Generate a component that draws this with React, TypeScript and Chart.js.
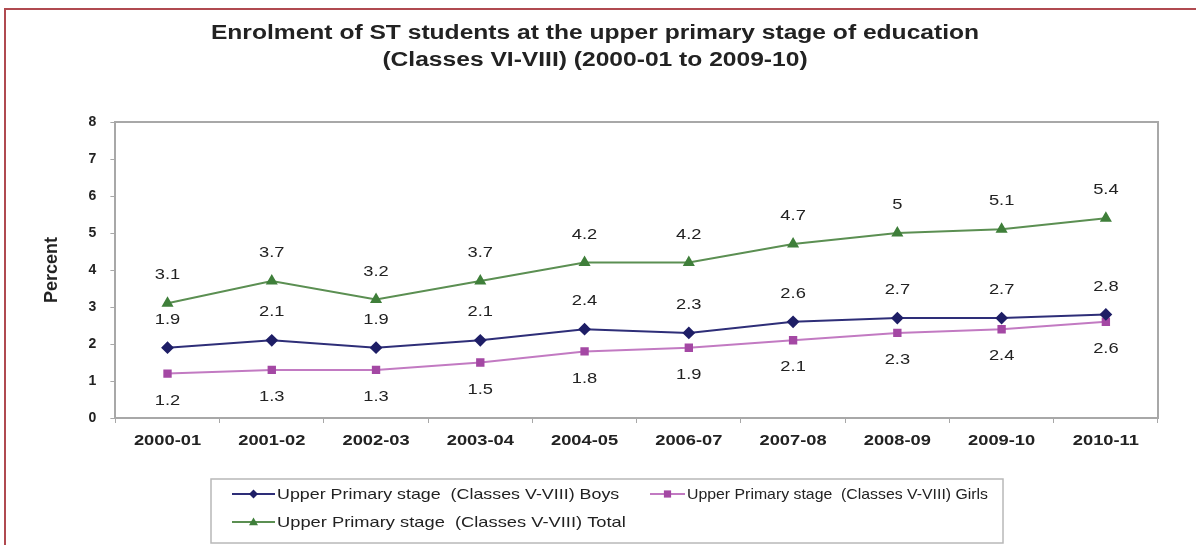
import React, { useEffect, useRef } from "react";
import { Chart, registerables } from "chart.js";

Chart.register(...registerables);

const categories = ["2000-01", "2001-02", "2002-03", "2003-04", "2004-05", "2006-07", "2007-08", "2008-09", "2009-10", "2010-11"];
const boys = [1.9, 2.1, 1.9, 2.1, 2.4, 2.3, 2.6, 2.7, 2.7, 2.8];
const girls = [1.2, 1.3, 1.3, 1.5, 1.8, 1.9, 2.1, 2.3, 2.4, 2.6];
const total = [3.1, 3.7, 3.2, 3.7, 4.2, 4.2, 4.7, 5.0, 5.1, 5.4];
const seriesNames = [
  "Upper Primary stage  (Classes V-VIII) Boys",
  "Upper Primary stage  (Classes V-VIII) Girls",
  "Upper Primary stage  (Classes V-VIII) Total",
];
const titleLines = [
  "Enrolment of ST students at the upper primary stage of education",
  "(Classes VI-VIII) (2000-01 to 2009-10)",
];
const yTicks = [0, 1, 2, 3, 4, 5, 6, 7, 8];

const FONT = "'Liberation Sans', Arial, sans-serif";
const STRETCH = 1.22;
const labelOffsets = [-28, 27, -28];

function stretchText(ctx: CanvasRenderingContext2D, text: string, x: number, y: number, sx: number, align: CanvasTextAlign) {
  ctx.save();
  ctx.translate(x, y);
  ctx.scale(sx, 1);
  ctx.textAlign = align;
  ctx.fillText(text, 0, 0);
  ctx.restore();
}

const titlePlugin = {
  id: "stretchTitle",
  afterDraw(chart: any) {
    const ctx = chart.ctx;
    ctx.save();
    ctx.font = `bold 20px ${FONT}`;
    ctx.fillStyle = "#222";
    ctx.textBaseline = "middle";
    titleLines.forEach((line, i) => {
      stretchText(ctx, line, 595, 33 + i * 27, 1.23, "center");
    });
    ctx.restore();
  },
};

const xLabelPlugin = {
  id: "xLabels",
  afterDraw(chart: any) {
    const ctx = chart.ctx;
    const xs = chart.scales.x;
    ctx.save();
    ctx.font = `bold 15px ${FONT}`;
    ctx.fillStyle = "#222";
    ctx.textBaseline = "middle";
    chart.data.labels.forEach((lab: string, i: number) => {
      stretchText(ctx, lab, xs.getPixelForValue(i), xs.top + 23, STRETCH, "center");
    });
    ctx.restore();
  },
};

const dataLabelPlugin = {
  id: "dataLabels",
  afterDatasetsDraw(chart: any) {
    const ctx = chart.ctx;
    ctx.save();
    ctx.font = `15px ${FONT}`;
    ctx.fillStyle = "#222";
    ctx.textBaseline = "middle";
    chart.data.datasets.forEach((ds: any, i: number) => {
      const meta = chart.getDatasetMeta(i);
      meta.data.forEach((pt: any, j: number) => {
        stretchText(ctx, String(ds.data[j]), pt.x, pt.y + labelOffsets[i], STRETCH, "center");
      });
    });
    ctx.restore();
  },
};

const framePlugin = {
  id: "frame",
  afterDraw(chart: any) {
    const { ctx, chartArea } = chart;
    ctx.save();
    ctx.strokeStyle = "#a8a8a8";
    ctx.lineWidth = 2;
    ctx.beginPath();
    ctx.moveTo(chartArea.left, chartArea.top);
    ctx.lineTo(chartArea.right, chartArea.top);
    ctx.lineTo(chartArea.right, chartArea.bottom);
    ctx.stroke();
    ctx.restore();
  },
};

function drawMarker(ctx: CanvasRenderingContext2D, style: string, x: number, y: number, r: number, color: string) {
  ctx.fillStyle = color;
  ctx.beginPath();
  if (style === "rectRot") {
    ctx.moveTo(x, y - r);
    ctx.lineTo(x + r, y);
    ctx.lineTo(x, y + r);
    ctx.lineTo(x - r, y);
  } else if (style === "rect") {
    ctx.rect(x - r * 0.8, y - r * 0.8, r * 1.6, r * 1.6);
  } else {
    ctx.moveTo(x, y - r);
    ctx.lineTo(x + r, y + r * 0.7);
    ctx.lineTo(x - r, y + r * 0.7);
  }
  ctx.closePath();
  ctx.fill();
}

const legendPlugin = {
  id: "boxLegend",
  afterDraw(chart: any) {
    const ctx = chart.ctx;
    const bx = 211, by = 479, bw = 792, bh = 64;
    ctx.save();
    ctx.strokeStyle = "#b8b8b8";
    ctx.lineWidth = 1.5;
    ctx.strokeRect(bx, by, bw, bh);
    const items = [
      { x: 232, y: 494, len: 43, sx: 1.19 },
      { x: 650, y: 494, len: 35, sx: 1.056 },
      { x: 232, y: 522, len: 43, sx: 1.22 },
    ];
    ctx.font = `15px ${FONT}`;
    ctx.textBaseline = "middle";
    chart.data.datasets.forEach((ds: any, i: number) => {
      const { x, y, len, sx } = items[i];
      ctx.strokeStyle = ds.borderColor;
      ctx.lineWidth = 2;
      ctx.beginPath();
      ctx.moveTo(x, y);
      ctx.lineTo(x + len, y);
      ctx.stroke();
      drawMarker(ctx, ds.pointStyle, x + len / 2, y, 4.5, ds.pointBackgroundColor);
      ctx.fillStyle = "#222";
      stretchText(ctx, ds.label, x + len + 2, y + 1, sx, "left");
    });
    ctx.restore();
  },
};

export default function App() {
  const ref = useRef<HTMLCanvasElement | null>(null);
  useEffect(() => {
    if (!ref.current) return;
    const chart = new Chart(ref.current, {
      type: "line",
      data: {
        labels: categories,
        datasets: [
          {
            label: seriesNames[0],
            data: boys,
            borderColor: "#2e2e78",
            backgroundColor: "#1e1e66",
            pointBackgroundColor: "#1e1e66",
            pointBorderColor: "#1e1e66",
            pointStyle: "rectRot",
            pointRadius: 5,
            borderWidth: 2,
          },
          {
            label: seriesNames[1],
            data: girls,
            borderColor: "#c27ac2",
            backgroundColor: "#a448a4",
            pointBackgroundColor: "#a448a4",
            pointBorderColor: "#a448a4",
            pointStyle: "rect",
            pointRadius: 4.5,
            borderWidth: 2,
          },
          {
            label: seriesNames[2],
            data: total,
            borderColor: "#5b8f52",
            backgroundColor: "#3f7f3a",
            pointBackgroundColor: "#3f7f3a",
            pointBorderColor: "#3f7f3a",
            pointStyle: "triangle",
            pointRadius: 5,
            borderWidth: 2,
          },
        ],
      },
      options: {
        responsive: false,
        animation: false,
        layout: { padding: { left: 32, right: 38, top: 122, bottom: 88 } },
        plugins: {
          legend: { display: false },
          tooltip: { enabled: false },
          title: { display: false },
        },
        scales: {
          x: {
            type: "category",
            offset: true,
            grid: { display: true, drawOnChartArea: false, offset: true, tickLength: 5, color: "#a8a8a8" },
            border: { display: true, color: "#a8a8a8", width: 2 },
            ticks: { color: "rgba(0,0,0,0)", font: { family: FONT, size: 15, weight: "bold" }, padding: 8, maxRotation: 0 },
          },
          y: {
            min: 0,
            max: 8,
            afterBuildTicks(scale: any) {
              scale.ticks = yTicks.map((v) => ({ value: v }));
            },
            grid: { display: true, drawOnChartArea: false, tickLength: 5, color: "#a8a8a8" },
            border: { display: true, color: "#a8a8a8", width: 2 },
            ticks: { color: "#222", font: { family: FONT, size: 14, weight: "bold" }, padding: 14 },
            title: {
              display: true,
              text: "Percent",
              color: "#222",
              font: { family: FONT, size: 18, weight: "bold" },
              padding: { top: 9, bottom: 12 },
            },
          },
        },
      },
      plugins: [framePlugin, dataLabelPlugin, xLabelPlugin, titlePlugin, legendPlugin],
    });
    return () => chart.destroy();
  }, []);

  return (
    <div style={{ position: "fixed", left: 0, top: 0, width: 1196, height: 545, background: "#fff", overflow: "hidden" }}>
      <canvas ref={ref} width={1196} height={545} style={{ position: "absolute", left: 0, top: 0 }} />
      <div
        style={{
          position: "absolute",
          left: 4,
          top: 8,
          width: 1300,
          height: 700,
          borderLeft: "2px solid #b04a50",
          borderTop: "2px solid #b04a50",
          pointerEvents: "none",
        }}
      />
    </div>
  );
}
